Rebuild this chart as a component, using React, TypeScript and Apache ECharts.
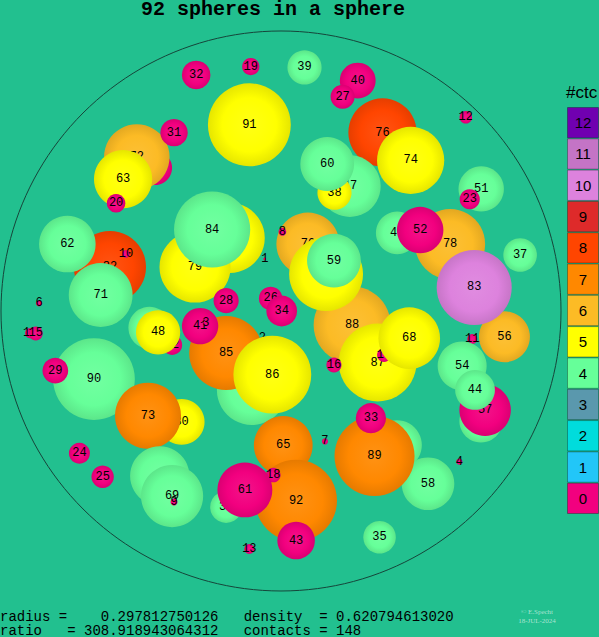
import React, { useEffect, useRef } from "react";
import * as echarts from "echarts";

// ---- data (projected sphere centres and radii in units of the container radius), back to front ----
const sphereIds = [
  82, 62, 10, 71, 21, 72, 63, 20, 31, 32, 19, 91, 39, 40, 27, 12, 76, 74, 47, 38,
  60, 51, 23, 64, 79, 84, 1, 70, 8, 88, 66, 59, 45, 78, 52, 37, 56, 83, 11, 53,
  57, 54, 44, 87, 17, 68, 16, 26, 34, 28, 77, 85, 2, 86, 41, 3, 46, 42, 48, 6,
  14, 15, 90, 29, 30, 73, 24, 25, 49, 69, 9, 13, 36, 65, 92, 18, 61, 43, 7, 55,
  58, 89, 33, 4, 35,
];
const sphereX = [
  -0.611, -0.763, -0.554, -0.644, -0.45, -0.515, -0.564, -0.589, -0.382, -0.303, -0.108, -0.113, 0.084, 0.274, 0.22, 0.66, 0.3625, 0.463, 0.246, 0.191,
  0.165, 0.715, 0.674, -0.183, -0.307, -0.246, -0.058, 0.096, 0.005, 0.254, 0.161, 0.189, 0.415, 0.604, 0.497, 0.854, 0.798, 0.69, 0.683, 0.714,
  0.729, 0.647, 0.693, 0.345, 0.368, 0.458, 0.189, -0.037, 0.0025, -0.196, -0.104, -0.196, -0.067, -0.031, -0.289, -0.268, -0.47, -0.389, -0.439, -0.864,
  -0.896, -0.876, -0.668, -0.806, -0.355, -0.475, -0.72, -0.637, -0.433, -0.389, -0.382, -0.113, -0.196, 0.008, 0.054, -0.0275, -0.129, 0.054, 0.157, 0.414,
  0.525, 0.334, 0.321, 0.637, 0.352,
];
const sphereY = [
  0.157, 0.239, 0.204, 0.057, 0.511, 0.55, 0.471, 0.385, 0.637, 0.843, 0.873, 0.665, 0.87, 0.823, 0.765, 0.692, 0.6375, 0.538, 0.446, 0.4225,
  0.525, 0.436, 0.399, 0.261, 0.157, 0.291, 0.186, 0.239, 0.283, -0.05, 0.132, 0.18, 0.279, 0.239, 0.289, 0.2, -0.092, 0.084, -0.1, -0.393,
  -0.354, -0.196, -0.282, -0.184, -0.157, -0.097, -0.193, 0.045, 0.0, 0.037, -0.282, -0.15, -0.0975, -0.227, -0.054, -0.043, -0.06, -0.121, -0.076, 0.0275,
  -0.079, -0.08, -0.243, -0.213, -0.396, -0.374, -0.508, -0.592, -0.589, -0.661, -0.682, -0.85, -0.7, -0.48, -0.677, -0.586, -0.639, -0.82, -0.466, -0.479,
  -0.617, -0.518, -0.383, -0.538, -0.808,
];
const sphereR = [
  0.129, 0.101, 0.014, 0.114, 0.061, 0.117, 0.104, 0.033, 0.049, 0.051, 0.031, 0.148, 0.061, 0.064, 0.043, 0.0225, 0.122, 0.12, 0.11, 0.061,
  0.096, 0.081, 0.036, 0.125, 0.127, 0.136, 0.005, 0.1125, 0.014, 0.1375, 0.132, 0.096, 0.076, 0.125, 0.083, 0.06, 0.091, 0.134, 0.018, 0.077,
  0.092, 0.0875, 0.071, 0.139, 0.025, 0.11, 0.027, 0.042, 0.055, 0.045, 0.125, 0.132, 0.005, 0.139, 0.065, 0.009, 0.075, 0.036, 0.079, 0.011,
  0.018, 0.025, 0.146, 0.046, 0.082, 0.118, 0.0375, 0.04, 0.106, 0.111, 0.0125, 0.018, 0.057, 0.105, 0.146, 0.026, 0.098, 0.067, 0.011, 0.089,
  0.094, 0.143, 0.054, 0.011, 0.058,
];
const sphereContacts = [
  8, 4, 0, 4, 0, 6, 5, 0, 0, 0, 0, 5, 4, 0, 0, 0, 8, 5, 4, 5,
  4, 4, 0, 5, 5, 4, 0, 6, 0, 6, 5, 4, 4, 6, 0, 4, 6, 10, 0, 4,
  0, 4, 4, 5, 0, 5, 0, 0, 0, 0, 4, 7, 0, 5, 0, 0, 4, 0, 5, 0,
  0, 0, 4, 0, 5, 7, 0, 0, 4, 4, 0, 0, 4, 7, 7, 0, 0, 0, 0, 4,
  4, 7, 0, 0, 4,
];

const contactLevels = ["0", "1", "2", "3", "4", "5", "6", "7", "8", "9", "10", "11", "12"];
const contactColors = [
  "#f2007f", "#22c6f8", "#00dcdc", "#5a98ad", "#66ff99", "#ffff00", "#fcbb25",
  "#ff8800", "#ff4500", "#de2a2a", "#dd82dd", "#c474c6", "#7000b0",
];

const TITLE = "92 spheres in a sphere";
const INFO_LINES = [
  "radius =    0.297812750126   density  = 0.620794613020",
  "ratio   = 308.918943064312   contacts = 148",
];
const WATERMARK = ["\u00a9 E.Specht", "18-JUL-2024"];

const BG = "#22c08f";

function shade(hex: string, f: number): string {
  const n = parseInt(hex.slice(1), 16);
  let r = (n >> 16) & 255, g = (n >> 8) & 255, b = n & 255;
  if (f < 1) {
    r = Math.round(r * f); g = Math.round(g * f); b = Math.round(b * f);
  } else {
    const t = f - 1;
    r = Math.round(r + (255 - r) * t); g = Math.round(g + (255 - g) * t); b = Math.round(b + (255 - b) * t);
  }
  return "rgb(" + r + "," + g + "," + b + ")";
}

export default function App() {
  const ref = useRef<HTMLDivElement>(null);
  useEffect(() => {
    document.body.style.margin = "0";
    document.body.style.overflow = "hidden";
    if (!ref.current) return;
    const chart = echarts.init(ref.current, undefined, { renderer: "svg" });

    const sphereData = sphereIds.map((_, i) => [sphereX[i], sphereY[i], sphereR[i], sphereContacts[i]]);

    const option: any = {
      animation: false,
      backgroundColor: BG,
      grid: [
        { left: 1, top: 31, width: 560, height: 560 },
        { left: 567, top: 107, width: 32, height: 407 },
      ],
      xAxis: [
        { type: "value", min: -1, max: 1, show: false, gridIndex: 0 },
        { type: "value", min: 0, max: 1, show: false, gridIndex: 1 },
      ],
      yAxis: [
        { type: "value", min: -1, max: 1, show: false, gridIndex: 0 },
        { type: "category", data: contactLevels, show: false, gridIndex: 1 },
      ],
      series: [
        {
          type: "custom",
          xAxisIndex: 0,
          yAxisIndex: 0,
          silent: true,
          z: 1,
          data: [[0, 0, 1]],
          renderItem: (params: any, api: any) => {
            const c = api.coord([api.value(0), api.value(1)]);
            const s = api.size([api.value(2), api.value(2)]);
            return {
              type: "circle",
              shape: { cx: c[0], cy: c[1], r: s[0] },
              style: { fill: "none", stroke: "#16453a", lineWidth: 1 },
            };
          },
        },
        {
          type: "custom",
          xAxisIndex: 0,
          yAxisIndex: 0,
          silent: true,
          z: 2,
          data: sphereData,
          renderItem: (params: any, api: any) => {
            const i = params.dataIndex;
            const c = api.coord([api.value(0), api.value(1)]);
            const s = api.size([api.value(2), api.value(2)]);
            const base = contactColors[api.value(3)];
            const fill = new echarts.graphic.RadialGradient(0.5, 0.5, 0.5, [
              { offset: 0, color: shade(base, 1.08) },
              { offset: 0.65, color: base },
              { offset: 1, color: shade(base, 0.9) },
            ]);
            return {
              type: "group",
              children: [
                { type: "circle", shape: { cx: c[0], cy: c[1], r: s[0] }, style: { fill } },
                {
                  type: "text",
                  x: c[0],
                  y: c[1],
                  style: {
                    text: String(sphereIds[i]),
                    fill: "#000",
                    font: '12px "Liberation Mono", monospace',
                    align: "center",
                    verticalAlign: "middle",
                  },
                },
              ],
            };
          },
        },
        {
          type: "bar",
          xAxisIndex: 1,
          yAxisIndex: 1,
          silent: true,
          barWidth: "100%",
          data: contactLevels.map((_, i) => ({
            value: 1,
            itemStyle: { color: contactColors[i], borderColor: "rgba(0,0,0,0.3)", borderWidth: 1 },
          })),
          label: {
            show: true,
            position: "inside",
            formatter: "{b}",
            color: "#000",
            fontSize: 15,
            fontFamily: '"Liberation Sans", Arial, sans-serif',
          },
        },
      ],
      graphic: [
        {
          type: "text",
          x: 273,
          y: 9,
          style: {
            text: TITLE,
            font: 'bold 20px "Liberation Mono", monospace',
            fill: "#000",
            align: "center",
            verticalAlign: "middle",
          },
        },
        {
          type: "text",
          x: 566,
          y: 92,
          style: {
            text: "#ctc",
            font: '17px "Liberation Sans", Arial, sans-serif',
            fill: "#000",
            align: "left",
            verticalAlign: "middle",
          },
        },
        ...INFO_LINES.map((t, i) => ({
          type: "text",
          x: 0,
          y: 617 + i * 14,
          style: {
            text: t,
            font: '14px "Liberation Mono", monospace',
            fill: "#000",
            align: "left",
            verticalAlign: "middle",
            whiteSpace: "pre",
          },
        })),
        ...WATERMARK.map((t, i) => ({
          type: "text",
          x: 537,
          y: 612 + i * 9,
          style: {
            text: t,
            font: '7px "Liberation Serif", serif',
            fill: "rgba(215,240,230,0.75)",
            align: "center",
            verticalAlign: "middle",
          },
        })),
      ],
    };
    chart.setOption(option);
    return () => chart.dispose();
  }, []);
  return <div ref={ref} style={{ width: 599, height: 637 }} />;
}
